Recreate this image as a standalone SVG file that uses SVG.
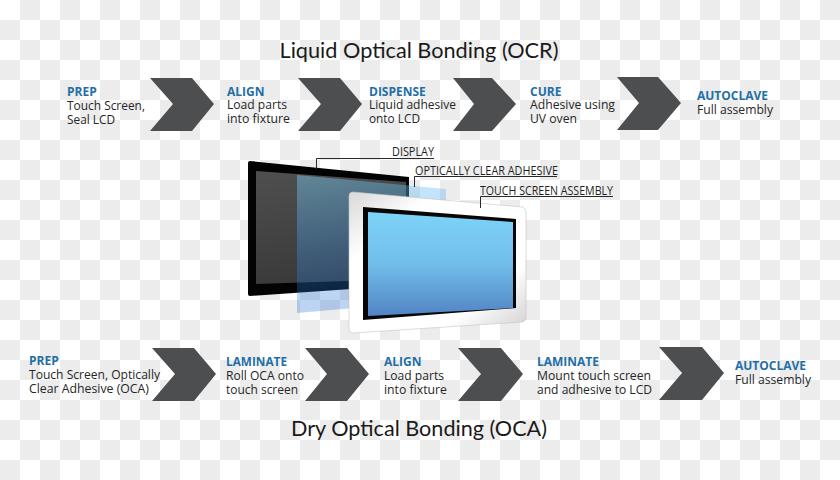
<svg xmlns="http://www.w3.org/2000/svg" width="840" height="480" viewBox="0 0 840 480">
<style>
text{font-family:"Open Sans","Liberation Sans",sans-serif}
.title{font-family:Lato,"Open Sans",sans-serif;font-size:22px;fill:#1a1a1a}
.h{font-size:12px;font-weight:700;fill:#1f6fa6}
.b{font-size:12px;fill:#262626}
.c{fill:#4d4e50}
.lab{font-size:12px;fill:#1f1f1f}
.lead{fill:none;stroke:#2a2a2a;stroke-width:1}
</style>
<defs>
<pattern id="chk" width="40" height="40" patternUnits="userSpaceOnUse">
<rect width="40" height="40" fill="#fff"/>
<rect x="20" width="20" height="20" fill="#ececec"/>
<rect y="20" width="20" height="20" fill="#ececec"/>
</pattern>
<linearGradient id="blue" x1="0" y1="0" x2="0" y2="1"><stop offset="0" stop-color="#7dd3f8"/><stop offset="0.5" stop-color="#72bdea"/><stop offset="1" stop-color="#5284c4"/></linearGradient>
<linearGradient id="bezel" x1="0" y1="0" x2="1" y2="1"><stop offset="0" stop-color="#d8d8d8"/><stop offset="0.25" stop-color="#fff"/><stop offset="0.75" stop-color="#fff"/><stop offset="1" stop-color="#cfcfcf"/></linearGradient>
<linearGradient id="panel" x1="0" y1="0" x2="0.2" y2="1"><stop offset="0" stop-color="#4f4f4f"/><stop offset="1" stop-color="#3a3a3a"/></linearGradient>
<linearGradient id="film" x1="0" y1="0" x2="0.15" y2="1"><stop offset="0" stop-color="#7fd7ff" stop-opacity="0.42"/><stop offset="1" stop-color="#1064cf" stop-opacity="0.28"/></linearGradient>
</defs>
<rect id="background" width="840" height="480" fill="url(#chk)"/>
<g id="title-top"><text class="title" x="419" y="58" text-anchor="middle" textLength="279" lengthAdjust="spacingAndGlyphs">Liquid Optical Bonding (OCR)</text></g>
<g id="title-bottom"><text class="title" x="419" y="436" text-anchor="middle" textLength="256" lengthAdjust="spacingAndGlyphs">Dry Optical Bonding (OCA)</text></g>

<g id="chevrons-top">
<polygon class="c" points="150,78 192,78 214,104 192,131 150,131 173,104"/>
<polygon class="c" points="298,78 340,78 362,104 340,131 298,131 321,104"/>
<polygon class="c" points="453,78 492,78 516,104 492,131 453,131 474,104"/>
<polygon class="c" points="617,77 658,77 681,103 658,130 617,130 639,103"/>
</g>
<g id="chevrons-bottom">
<polygon class="c" points="152,348 194,348 216,374 194,401 152,401 175,374"/>
<polygon class="c" points="305,348 347,348 369,374 347,401 305,401 327,374"/>
<polygon class="c" points="458,348 501,348 523,374 501,401 458,401 481,374"/>
<polygon class="c" points="659,347 702,347 724,373 702,400 659,400 682,373"/>
</g>

<g id="step-prep-1"><text class="h" x="67" y="96">PREP</text><text class="b" x="67" y="110" textLength="78" lengthAdjust="spacingAndGlyphs">Touch Screen,</text><text class="b" x="67" y="124" textLength="48" lengthAdjust="spacingAndGlyphs">Seal LCD</text></g>
<g id="step-align-1"><text class="h" x="227" y="96">ALIGN</text><text class="b" x="227" y="109" textLength="60" lengthAdjust="spacingAndGlyphs">Load parts</text><text class="b" x="227" y="123" textLength="63" lengthAdjust="spacingAndGlyphs">into fixture</text></g>
<g id="step-dispense"><text class="h" x="369" y="96">DISPENSE</text><text class="b" x="369" y="109" textLength="87" lengthAdjust="spacingAndGlyphs">Liquid adhesive</text><text class="b" x="369" y="123" textLength="51" lengthAdjust="spacingAndGlyphs">onto LCD</text></g>
<g id="step-cure"><text class="h" x="530" y="96">CURE</text><text class="b" x="530" y="109" textLength="85" lengthAdjust="spacingAndGlyphs">Adhesive using</text><text class="b" x="530" y="123" textLength="47" lengthAdjust="spacingAndGlyphs">UV oven</text></g>
<g id="step-autoclave-1"><text class="h" x="697" y="100" textLength="71" lengthAdjust="spacingAndGlyphs">AUTOCLAVE</text><text class="b" x="697" y="114" textLength="76" lengthAdjust="spacingAndGlyphs">Full assembly</text></g>

<g id="step-prep-2"><text class="h" x="29" y="365">PREP</text><text class="b" x="29" y="379" textLength="131" lengthAdjust="spacingAndGlyphs">Touch Screen, Optically</text><text class="b" x="29" y="393" textLength="120" lengthAdjust="spacingAndGlyphs">Clear Adhesive (OCA)</text></g>
<g id="step-laminate-1"><text class="h" x="226" y="366" textLength="61" lengthAdjust="spacingAndGlyphs">LAMINATE</text><text class="b" x="226" y="380" textLength="78" lengthAdjust="spacingAndGlyphs">Roll OCA onto</text><text class="b" x="226" y="394" textLength="72" lengthAdjust="spacingAndGlyphs">touch screen</text></g>
<g id="step-align-2"><text class="h" x="384" y="366">ALIGN</text><text class="b" x="384" y="380" textLength="60" lengthAdjust="spacingAndGlyphs">Load parts</text><text class="b" x="384" y="394" textLength="63" lengthAdjust="spacingAndGlyphs">into fixture</text></g>
<g id="step-laminate-2"><text class="h" x="537" y="366" textLength="62" lengthAdjust="spacingAndGlyphs">LAMINATE</text><text class="b" x="537" y="380" textLength="114" lengthAdjust="spacingAndGlyphs">Mount touch screen</text><text class="b" x="537" y="394" textLength="115" lengthAdjust="spacingAndGlyphs">and adhesive to LCD</text></g>
<g id="step-autoclave-2"><text class="h" x="735" y="370" textLength="71" lengthAdjust="spacingAndGlyphs">AUTOCLAVE</text><text class="b" x="735" y="384" textLength="76" lengthAdjust="spacingAndGlyphs">Full assembly</text></g>

<g id="display">
<path d="M250,161 L409,177 L409,285 L250,296 Q248,296 248,294 L248,163 Q248,161 250,161Z" fill="#030303"/>
<polygon points="256,171 406,182 406,279 256,284" fill="url(#panel)"/>
</g>
<g id="adhesive"><polygon points="297,175 446,189 446,300 297,313" fill="url(#film)"/></g>
<g id="touch-screen">
<path d="M353,192 L522,207 Q526,208 526,212 L526,318 Q526,321 522,322 L353,333 Q349,333 349,329 L349,196 Q349,192 353,192Z" fill="url(#bezel)" stroke="#c4c4c4" stroke-width="0.6"/>
<polygon points="363,207 516,219 516,308 363,320" fill="#060606"/>
<polygon points="368,212 513,222 513,308 368,316" fill="url(#blue)"/>
</g>
<g id="connectors">
<polyline class="lead" points="316.500,169 316.500,158.500 434,158.500"/>
<polyline class="lead" points="414.500,187 414.500,176.500 557,176.500"/>
<polyline class="lead" points="480.500,208 480.500,196.500 613,196.500"/>
</g>
<g id="label-display"><text class="lab" x="392" y="156" textLength="42" lengthAdjust="spacingAndGlyphs">DISPLAY</text></g>
<g id="label-adhesive"><text class="lab" x="415" y="174.500" textLength="143" lengthAdjust="spacingAndGlyphs">OPTICALLY CLEAR ADHESIVE</text></g>
<g id="label-touch"><text class="lab" x="480" y="194.500" textLength="133" lengthAdjust="spacingAndGlyphs">TOUCH SCREEN ASSEMBLY</text></g>
</svg>
